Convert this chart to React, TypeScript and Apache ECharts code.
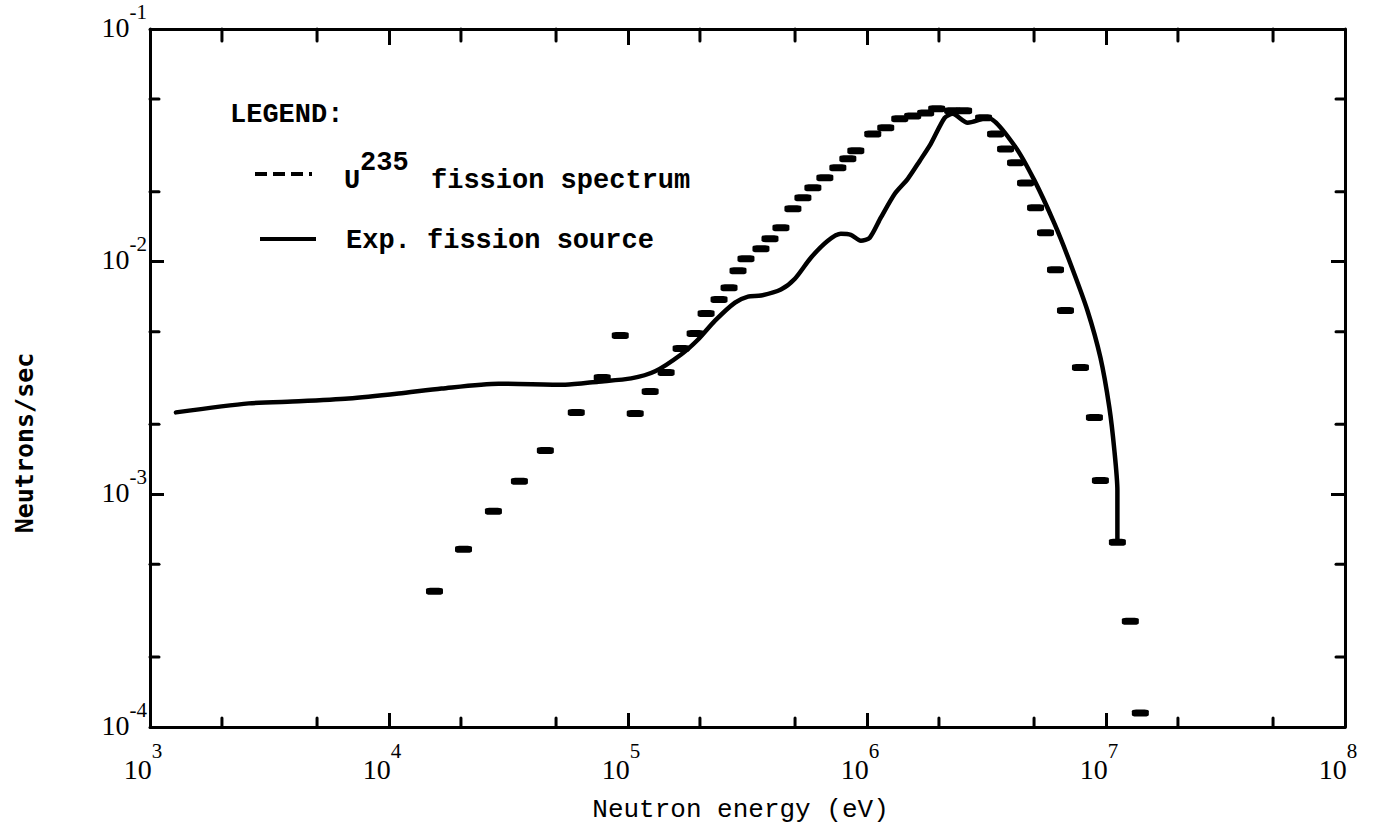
import React, { useEffect, useRef } from "react";
import * as echarts from "echarts";

// Axis ranges
const X_MIN = 1e3;
const X_MAX = 1e8;
const Y_MIN = 1e-4;
const Y_MAX = 1e-1;

// Minor tick values (2 and 5 per decade)
const xMinorTicks = [2e3, 5e3, 2e4, 5e4, 2e5, 5e5, 2e6, 5e6, 2e7, 5e7];
const yMinorTicks = [2e-4, 5e-4, 2e-3, 5e-3, 2e-2, 5e-2];

// Exp. fission source (solid curve)
const expEnergy = [
  1284, 2591, 4193, 6781, 10970, 16590, 28700, 54650, 75100, 103100, 129900,
  166800, 196500, 231300, 280400, 317800, 360100, 436400, 499300, 582400,
  685900, 777400, 855800, 942200, 1.027e6, 1.142e6, 1.307e6, 1.481e6,
  1.662e6, 1.848e6, 2.113e6, 2.282e6, 2.637e6, 3.196e6, 4.144e6, 5.023e6,
  6.087e6, 7.101e6, 8.361e6, 9.476e6, 1.033e7, 1.084e7, 1.116e7, 1.116e7,
];
const expSource = [
  2.25e-3, 2.46e-3, 2.51e-3, 2.58e-3, 2.71e-3, 2.85e-3, 2.99e-3, 2.96e-3,
  3.05e-3, 3.15e-3, 3.38e-3, 3.99e-3, 4.63e-3, 5.58e-3, 6.67e-3, 7.08e-3,
  7.15e-3, 7.59e-3, 8.45e-3, 1.04e-2, 1.23e-2, 1.318e-2, 1.305e-2, 1.23e-2,
  1.268e-2, 1.545e-2, 1.959e-2, 2.27e-2, 2.71e-2, 3.21e-2, 4.15e-2, 4.32e-2,
  3.95e-2, 4.15e-2, 3.15e-2, 2.23e-2, 1.456e-2, 9.8e-3, 6.17e-3, 3.87e-3,
  2.36e-3, 1.545e-3, 1.04e-3, 6.22e-4,
];

// U235 fission spectrum (dashes)
const u235Energy = [
  15500, 20500, 27350, 35130, 45100, 60750, 78000, 92800, 107200, 123800,
  144400, 166800, 190900, 212200, 240400, 264700, 288600, 311600, 360000,
  392700, 436400, 489800, 539300, 593700, 666300, 755100, 831400, 897900,
  1.057e6, 1.198e6, 1.371e6, 1.553e6, 1.76e6, 1.957e6, 2.282e6, 2.537e6,
  3.075e6, 3.451e6, 3.8e6, 4.183e6, 4.606e6, 5.073e6, 5.584e6, 6.148e6,
  6.768e6, 7.818e6, 8.945e6, 9.475e6, 1.116e7, 1.264e7, 1.392e7,
];
const u235Flux = [
  3.83e-4, 5.81e-4, 8.45e-4, 1.137e-3, 1.545e-3, 2.248e-3, 3.178e-3, 4.81e-3,
  2.226e-3, 2.767e-3, 3.34e-3, 4.23e-3, 4.91e-3, 5.98e-3, 6.87e-3, 7.73e-3,
  9.15e-3, 1.03e-2, 1.137e-2, 1.256e-2, 1.399e-2, 1.688e-2, 1.882e-2,
  2.077e-2, 2.293e-2, 2.532e-2, 2.767e-2, 2.995e-2, 3.54e-2, 3.76e-2, 4.11e-2,
  4.23e-2, 4.36e-2, 4.54e-2, 4.45e-2, 4.45e-2, 4.15e-2, 3.54e-2, 3.05e-2,
  2.66e-2, 2.18e-2, 1.705e-2, 1.332e-2, 9.24e-3, 6.16e-3, 3.51e-3, 2.14e-3,
  1.148e-3, 6.22e-4, 2.85e-4, 1.148e-4,
];

const MONO = "'Liberation Mono', 'DejaVu Sans Mono', monospace";
const SERIF = "'Liberation Serif', 'DejaVu Serif', serif";
const INK = "#000";

const expLabel = (v: number) => `{b|10}{s|${Math.round(Math.log10(v))}}`;

export default function App() {
  const ref = useRef<HTMLDivElement>(null);

  useEffect(() => {
    if (!ref.current) return;
    const chart = echarts.init(ref.current, null, { renderer: "svg" });

    const tickLine = { show: true, inside: true, length: 14, lineStyle: { color: INK, width: 3 } };
    const axisLine = { show: true, lineStyle: { color: INK, width: 3 } };

    const xRich = {
      b: { fontFamily: SERIF, fontSize: 28, color: INK, lineHeight: 43, verticalAlign: "bottom" },
      s: { fontFamily: SERIF, fontSize: 21, color: INK, lineHeight: 20, verticalAlign: "top", padding: [0, 14, 0, 0] },
    };
    const yRich = {
      b: { fontFamily: SERIF, fontSize: 28, color: INK, lineHeight: 40, verticalAlign: "bottom" },
      s: { fontFamily: SERIF, fontSize: 21, color: INK, lineHeight: 20, verticalAlign: "top" },
    };

    const option: any = {
      animation: false,
      backgroundColor: "#fff",
      grid: { left: 150, right: 30, top: 29, bottom: 106, outerBoundsMode: "none", containLabel: false },
      xAxis: [
        {
          type: "log", logBase: 10, min: X_MIN, max: X_MAX, position: "bottom",
          axisLine, axisTick: tickLine, splitLine: { show: false },
          axisLabel: { formatter: expLabel, margin: 13, rich: xRich, showMinLabel: true, showMaxLabel: true },
          name: "Neutron energy (eV)", nameLocation: "middle", nameGap: 70,
          nameTextStyle: { fontFamily: MONO, fontSize: 26, color: INK, padding: [0, 14, 0, 0] },
        },
        {
          type: "log", logBase: 10, min: X_MIN, max: X_MAX, position: "top",
          axisLine, axisTick: { ...tickLine, length: 16 }, splitLine: { show: false }, axisLabel: { show: false },
        },
      ],
      yAxis: [
        {
          type: "log", logBase: 10, min: Y_MIN, max: Y_MAX, position: "left", splitNumber: 3,
          axisLine, axisTick: tickLine, splitLine: { show: false },
          axisLabel: { formatter: expLabel, margin: 3, rich: yRich, showMinLabel: true, showMaxLabel: true, padding: [0, 0, 16, 0] },
        },
        {
          type: "log", logBase: 10, min: Y_MIN, max: Y_MAX, position: "right", splitNumber: 3,
          axisLine, axisTick: tickLine, splitLine: { show: false }, axisLabel: { show: false },
        },
      ],
      series: [
        {
          name: "Exp. fission source",
          type: "line",
          data: expEnergy.map((e, i) => [e, expSource[i]]),
          showSymbol: false,
          smooth: 0.25,
          lineStyle: { color: INK, width: 4.5, cap: "round", join: "round" },
          z: 3,
        },
        {
          name: "U235 fission spectrum",
          type: "scatter",
          data: u235Energy.map((e, i) => [e, u235Flux[i]]),
          symbol: "roundRect",
          symbolSize: [17, 7],
          itemStyle: { color: INK, opacity: 1 },
          z: 4,
        },
        {
          name: "x minor ticks",
          type: "custom",
          data: xMinorTicks.map((v) => [v, Y_MIN]),
          renderItem: (_p: any, api: any) => {
            const v = api.value(0);
            const pb = api.coord([v, Y_MIN]);
            const pt = api.coord([v, Y_MAX]);
            const st = { stroke: INK, lineWidth: 3, lineCap: "round" };
            return {
              type: "group",
              children: [
                { type: "line", shape: { x1: pb[0], y1: pb[1], x2: pb[0], y2: pb[1] - 9 }, style: st },
                { type: "line", shape: { x1: pt[0], y1: pt[1], x2: pt[0], y2: pt[1] + 12 }, style: st },
              ],
            };
          },
          silent: true,
          z: 5,
        },
        {
          name: "y minor ticks",
          type: "custom",
          data: yMinorTicks.map((v) => [X_MIN, v]),
          renderItem: (_p: any, api: any) => {
            const v = api.value(1);
            const pl = api.coord([X_MIN, v]);
            const pr = api.coord([X_MAX, v]);
            const st = { stroke: INK, lineWidth: 3, lineCap: "round" };
            return {
              type: "group",
              children: [
                { type: "line", shape: { x1: pl[0], y1: pl[1], x2: pl[0] + 9, y2: pl[1] }, style: st },
                { type: "line", shape: { x1: pr[0], y1: pr[1], x2: pr[0] - 9, y2: pr[1] }, style: st },
              ],
            };
          },
          silent: true,
          z: 5,
        },
      ],
      graphic: [
        { type: "text", left: 230, top: 101, style: { text: "LEGEND:", font: `bold 27px ${MONO}`, fill: INK } },
        { type: "line", shape: { x1: 255, y1: 174, x2: 312, y2: 174 }, style: { stroke: INK, lineWidth: 4, lineDash: [12, 6] } },
        { type: "text", x: 344, y: 181, style: { text: "U", font: `bold 27px ${MONO}`, fill: INK, verticalAlign: "middle" } },
        { type: "text", x: 360, y: 163, style: { text: "235", font: `bold 27px ${MONO}`, fill: INK, verticalAlign: "middle" } },
        { type: "text", x: 431, y: 181, style: { text: "fission spectrum", font: `bold 27px ${MONO}`, fill: INK, verticalAlign: "middle" } },
        { type: "line", shape: { x1: 260, y1: 239, x2: 316, y2: 239 }, style: { stroke: INK, lineWidth: 4 } },
        { type: "text", x: 346, y: 241, style: { text: "Exp. fission source", font: `bold 27px ${MONO}`, fill: INK, verticalAlign: "middle" } },
        {
          type: "text", x: 24, y: 443, rotation: Math.PI / 2,
          style: { text: "Neutrons/sec", font: `bold 25px 'DejaVu Sans Mono', monospace`, fill: INK, align: "center", verticalAlign: "middle" },
        },
      ],
    };

    chart.setOption(option);
    return () => chart.dispose();
  }, []);

  return <div ref={ref} style={{ position: "absolute", left: 0, top: 0, width: 1375, height: 833 }} />;
}
